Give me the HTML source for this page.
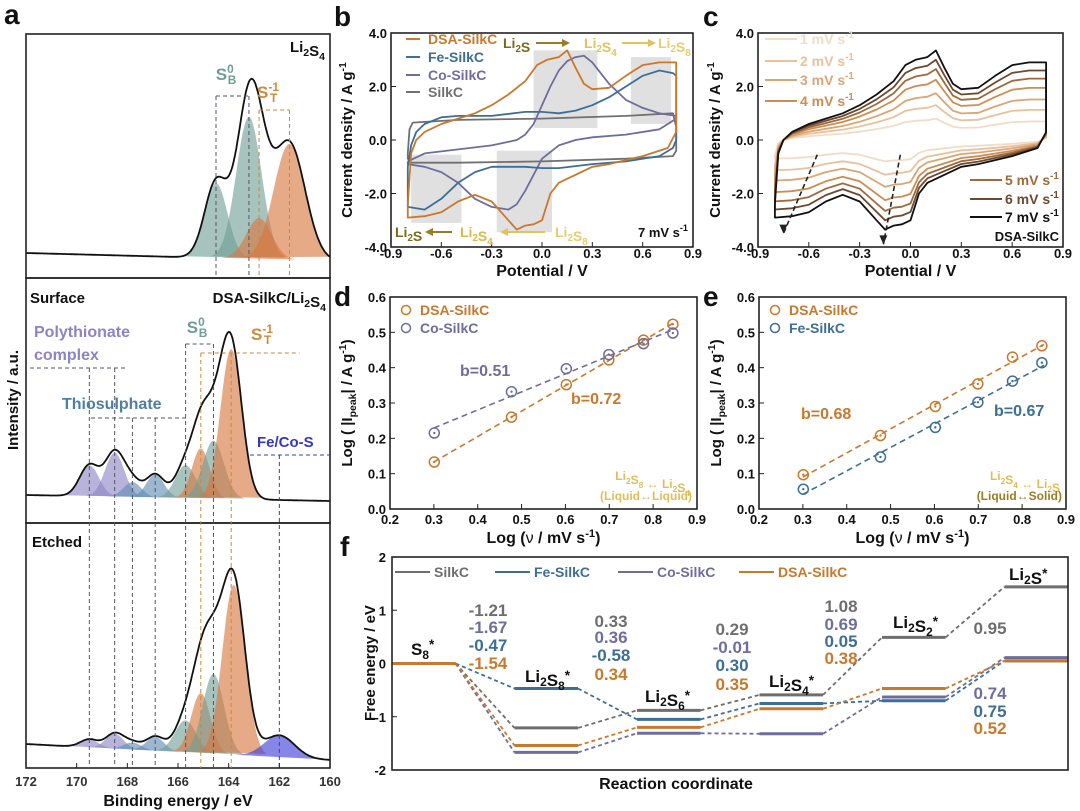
<!DOCTYPE html>
<html><head><meta charset="utf-8"><style>
html,body{margin:0;padding:0;background:#fff}
svg{display:block;font-family:"Liberation Sans",Arial,sans-serif;font-weight:bold}
</style></head><body>
<svg id="fig" width="1080" height="811" viewBox="0 0 1080 811" xmlns="http://www.w3.org/2000/svg">
<g id="layer"></g>
</svg>
<script>
// ---------- Panel a data (XPS) ----------
const aTopPeaksE = [164.5, 163.2, 162.8, 161.6];
const aTopPeaksH = [75, 142, 41, 116];
const aTopPeaksS = [0.45, 0.5, 0.5, 0.62];
const aTopPeaksC = ['teal','teal','orange','orange'];
const aSurfPeaksE = [169.5, 168.5, 167.8, 166.9, 165.7, 165.1, 164.6, 163.9];
const aSurfPeaksH = [31, 44, 15, 23, 33, 50, 58, 150];
const aSurfPeaksS = [0.38, 0.38, 0.35, 0.35, 0.4, 0.35, 0.42, 0.42];
const aSurfPeaksC = ['purple','purple','blue','blue','teal','orange','teal','orange'];
const aEtchPeaksE = [169.5, 168.5, 167.8, 166.9, 165.7, 165.1, 164.6, 163.8, 162.0];
const aEtchPeaksH = [8, 15, 7, 14, 32, 60, 80, 170, 22];
const aEtchPeaksS = [0.35, 0.35, 0.35, 0.35, 0.42, 0.38, 0.42, 0.45, 0.6];
const aEtchPeaksC = ['purple','purple','blue','blue','teal','orange','teal','orange','deep'];
const aXTicks = [172, 170, 168, 166, 164, 162, 160];

// ---------- Panel b data (CV, V / A g-1) ----------
const bDSA = [[-0.8,-2.4],[-0.78,-0.5],[-0.75,0.0],[-0.7,0.3],[-0.6,0.6],[-0.5,0.8],[-0.4,1.0],[-0.3,1.3],[-0.2,1.7],[-0.1,2.2],[-0.03,2.8],[0.03,3.0],[0.1,3.1],[0.15,3.35],[0.2,2.7],[0.25,2.1],[0.3,1.9],[0.4,1.95],[0.5,2.4],[0.6,2.8],[0.7,2.9],[0.8,2.9],[0.8,0.3],[0.75,-0.3],[0.6,-0.6],[0.5,-0.75],[0.4,-0.9],[0.3,-1.0],[0.2,-1.3],[0.1,-1.6],[0.05,-2.0],[0.0,-3.0],[-0.05,-3.15],[-0.1,-3.2],[-0.15,-3.35],[-0.2,-3.0],[-0.3,-2.3],[-0.4,-2.05],[-0.5,-2.3],[-0.6,-2.7],[-0.7,-2.85],[-0.8,-2.9],[-0.8,-2.4]];
const bFe = [[-0.8,-1.0],[-0.78,-0.2],[-0.75,0.3],[-0.7,0.6],[-0.6,0.85],[-0.5,0.9],[-0.3,0.9],[-0.1,1.05],[0.0,1.05],[0.1,1.0],[0.2,1.1],[0.3,1.3],[0.4,1.6],[0.5,2.0],[0.6,2.4],[0.7,2.6],[0.78,2.5],[0.8,2.4],[0.8,0.0],[0.78,-0.3],[0.7,-0.6],[0.5,-0.8],[0.3,-0.9],[0.1,-1.05],[0.0,-1.05],[-0.1,-1.0],[-0.3,-1.0],[-0.4,-1.2],[-0.5,-1.6],[-0.6,-2.2],[-0.7,-2.6],[-0.8,-2.5],[-0.8,-1.0]];
const bCo = [[-0.8,-0.8],[-0.7,-0.5],[-0.5,-0.35],[-0.3,-0.2],[-0.15,0.0],[-0.1,0.2],[-0.05,0.6],[0.0,1.3],[0.05,2.0],[0.1,2.6],[0.15,2.95],[0.2,3.1],[0.25,3.15],[0.3,2.9],[0.4,2.1],[0.5,1.5],[0.6,1.2],[0.7,1.0],[0.8,0.9],[0.8,0.8],[0.7,0.4],[0.5,0.2],[0.3,0.1],[0.2,0.0],[0.1,-0.2],[0.0,-0.7],[-0.05,-1.3],[-0.1,-1.9],[-0.15,-2.4],[-0.2,-2.6],[-0.3,-2.5],[-0.4,-2.2],[-0.5,-1.6],[-0.6,-1.2],[-0.7,-1.0],[-0.8,-0.9],[-0.8,-0.8]];
const bSilk = [[-0.8,-0.5],[-0.79,0.4],[-0.77,0.65],[-0.5,0.75],[0.0,0.8],[0.5,0.9],[0.78,1.0],[0.8,0.5],[0.8,-0.4],[0.78,-0.6],[0.5,-0.7],[0.0,-0.8],[-0.5,-0.85],[-0.78,-0.85],[-0.8,-0.7],[-0.8,-0.5]];
const bBoxes = [[-0.05,0.33,0.45,3.35],[0.53,0.77,0.6,3.1],[-0.78,-0.48,-3.1,-0.55],[-0.27,0.06,-3.45,-0.4]];
const cvXTicks = [-0.9,-0.6,-0.3,0.0,0.3,0.6,0.9];
const cvYTicks = [-4.0,-2.0,0.0,2.0,4.0];

// ---------- Panel c data ----------
const cRates = [1,2,3,4,5,6,7];
const cPeakCurrent = [0.8,1.3,1.75,2.25,2.65,3.0,3.35];

// ---------- Panel d/e data ----------
const logV = [0.301,0.477,0.602,0.699,0.778,0.845];
const dDSA = [0.133,0.26,0.352,0.422,0.478,0.523];
const dCo = [0.215,0.332,0.397,0.437,0.468,0.498];
const eDSA = [0.097,0.208,0.29,0.354,0.43,0.462];
const eFe = [0.056,0.147,0.231,0.302,0.362,0.414];
const deXTicks = [0.2,0.3,0.4,0.5,0.6,0.7,0.8,0.9];
const deYTicks = [0.0,0.1,0.2,0.3,0.4,0.5,0.6];

// ---------- Panel f data ----------
const fSpecies = ['S8*','Li2S8*','Li2S6*','Li2S4*','Li2S2*','Li2S*'];
const fStepSilk = [-1.21,0.33,0.29,1.08,0.95];
const fStepFe = [-0.47,-0.58,0.30,0.05,0.75];
const fStepCo = [-1.67,0.36,-0.01,0.69,0.74];
const fStepDSA = [-1.54,0.34,0.35,0.38,0.52];
const fYTicks = [-2,-1,0,1,2];

const NS='http://www.w3.org/2000/svg';
const root=document.getElementById('layer');
function mk(tag,attrs,name,inter,parent){
  const el=document.createElementNS(NS,tag);
  for(const k in attrs) el.setAttribute(k,attrs[k]);
  
  
  (parent||root).appendChild(el);return el;
}
function txt(x,y,s,name,o){o=o||{};
  const el=mk('text',{x:x,y:y,'font-size':o.fs||14,fill:o.fill||'#111','text-anchor':o.anchor||'start','font-weight':'bold'},name,false,o.parent);
  if(o.rot) el.setAttribute('transform','rotate('+o.rot+' '+x+' '+y+')');
  el.innerHTML=s;return el;}
function lin(d0,d1,r0,r1){return v=>r0+(v-d0)/(d1-d0)*(r1-r0);}
function frame(x0,y0,x1,y1,name){mk('rect',{x:x0,y:y0,width:x1-x0,height:y1-y0,fill:'none',stroke:'#222','stroke-width':1.6},name,false);}
const sub=(a,b)=>a+'<tspan font-size="0.7em" dy="4">'+b+'</tspan><tspan dy="-4"></tspan>';
function arrow(x1,y,x2,col,name){
  mk('line',{x1:x1,y1:y,x2:x2-(x2>x1?6:-6),y2:y,stroke:col,'stroke-width':2},name,false);
  const d=x2>x1?-8:8;
  mk('path',{d:'M'+x2+' '+y+' l'+d+' -4 l0 8 z',fill:col},name+'-head',false);}

// panel letters
[['a',4,24],['b',334,26],['c',703,26],['d',334,306],['e',703,306],['f',340,556]].forEach(l=>txt(l[1],l[2],l[0],'panel-label-'+l[0],{fs:28}));

// ================= Panel a =================
const xa=lin(172,160,26,330);
const colA={teal:'#6f9e96',orange:'#d9763e',purple:'#8c84c4',blue:'#5f8db5',deep:'#3b3bd6'};
const aPanels=[
 {E:aTopPeaksE,H:aTopPeaksH,S:aTopPeaksS,C:aTopPeaksC,top:34,bot:278,bgL:253,bgR:261,name:'li2s4'},
 {E:aSurfPeaksE,H:aSurfPeaksH,S:aSurfPeaksS,C:aSurfPeaksC,top:278,bot:523,bgL:495,bgR:501,name:'surface'},
 {E:aEtchPeaksE,H:aEtchPeaksH,S:aEtchPeaksS,C:aEtchPeaksC,top:523,bot:768,bgL:744,bgR:760,name:'etched'}];
aPanels.forEach(p=>{
  const bg=e=>p.bgL+(172-e)/12*(p.bgR-p.bgL);
  const g=mk('g',{},'xps-'+p.name+'-panel',false);
  p.E.forEach((c,i)=>{
    let d='';
    for(let e=Math.min(172,c+3*p.S[i]);e>=Math.max(160,c-3*p.S[i]);e-=0.05){
      const y=bg(e)-p.H[i]*Math.exp(-0.5*Math.pow((e-c)/p.S[i],2));
      d+=(d?'L':'M')+xa(e).toFixed(1)+' '+y.toFixed(1);}
    d+='Z';
    mk('path',{d:d,fill:colA[p.C[i]],'fill-opacity':0.62,stroke:'none'},'xps-peak-'+p.name+'-'+c,false,g);
  });
  let d='';
  for(let e=172;e>=159.99;e-=0.05){
    let y=bg(e);p.E.forEach((c,i)=>{y-=p.H[i]*Math.exp(-0.5*Math.pow((e-c)/p.S[i],2));});
    d+=(d?'L':'M')+xa(e).toFixed(1)+' '+y.toFixed(1);}
  mk('path',{d:d,fill:'none',stroke:'#111','stroke-width':1.8},'xps-envelope-'+p.name,false,g);
  frame(26,p.top,330,p.bot,'xps-frame-'+p.name);
});
function vdash(e,y0,y1,col,name){mk('line',{x1:xa(e),y1:y0,x2:xa(e),y2:y1,stroke:col,'stroke-width':1,'stroke-dasharray':'4 3'},name,false);}
function hdash(e0,e1,y,col,name){mk('line',{x1:xa(e0),y1:y,x2:xa(e1),y2:y,stroke:col,'stroke-width':1,'stroke-dasharray':'4 3'},name,false);}
function hpx(x0,x1,y,col,name){mk('line',{x1:x0,y1:y,x2:x1,y2:y,stroke:col,'stroke-width':1,'stroke-dasharray':'4 3'},name,false);}
vdash(164.5,96,278,'#556','guide-sb-1');vdash(163.2,96,278,'#556','guide-sb-2');hdash(164.5,163.2,96,'#556','bracket-sb-top');
vdash(162.8,110,278,'#c8893a','guide-st-1');vdash(161.6,110,278,'#c8893a','guide-st-2');hdash(162.8,161.6,110,'#c8893a','bracket-st-top');
vdash(169.5,368,768,'#556','guide-poly-1');vdash(168.5,368,768,'#556','guide-poly-2');hpx(30,125,368,'#556','bracket-poly');
vdash(167.8,418,768,'#556','guide-thio-1');vdash(166.9,418,768,'#556','guide-thio-2');hpx(91,186,418,'#556','bracket-thio');
vdash(165.7,344,768,'#556','guide-sb-3');vdash(164.6,344,768,'#556','guide-sb-4');hdash(165.7,164.6,344,'#556','bracket-sb-surf');
vdash(165.1,353,768,'#c8893a','guide-st-3');vdash(163.9,353,768,'#c8893a','guide-st-4');hdash(165.1,161.2,353,'#c8893a','bracket-st-surf');
vdash(162.0,455,768,'#3b3bb0','guide-feco');hpx(250,330,455,'#3b3bb0','bracket-feco');
txt(325,52,sub('Li','2')+sub('S','4'),'label-li2s4',{fs:15,anchor:'end'});
txt(226,80,'S<tspan font-size="0.7em" dy="-7">0</tspan><tspan font-size="0.7em" dx="-6" dy="11">B</tspan>','label-sb0-top',{fs:17,fill:'#6f9e96',anchor:'middle'});
txt(268,98,'S<tspan font-size="0.7em" dy="-7">-1</tspan><tspan font-size="0.7em" dx="-9" dy="11">T</tspan>','label-st-top',{fs:17,fill:'#d08a3c',anchor:'middle'});
txt(30,303,'Surface','label-surface',{fs:15});
txt(326,303,'DSA-SilkC/'+sub('Li','2')+sub('S','4'),'label-dsa-li2s4',{fs:15,anchor:'end'});
txt(34,337,'Polythionate','label-polythionate',{fs:16,fill:'#8c84c4'});
txt(34,360,'complex','label-complex',{fs:16,fill:'#8c84c4'});
txt(62,409,'Thiosulphate','label-thiosulphate',{fs:16,fill:'#4f7fa5'});
txt(257,447,'Fe/Co-S','label-feco-s',{fs:15,fill:'#3535c8'});
txt(197,333,'S<tspan font-size="0.7em" dy="-7">0</tspan><tspan font-size="0.7em" dx="-6" dy="11">B</tspan>','label-sb0-surf',{fs:17,fill:'#6f9e96',anchor:'middle'});
txt(262,340,'S<tspan font-size="0.7em" dy="-7">-1</tspan><tspan font-size="0.7em" dx="-9" dy="11">T</tspan>','label-st-surf',{fs:17,fill:'#d08a3c',anchor:'middle'});
txt(32,547,'Etched','label-etched',{fs:15});
aXTicks.forEach(t=>{txt(xa(t),786,t,'xps-xtick-'+t,{fs:13,anchor:'middle',fill:'#333'});
  mk('line',{x1:xa(t),y1:768,x2:xa(t),y2:763,stroke:'#222'},'xps-tickmark-'+t,false);});
txt(178,806,'Binding energy / eV','xps-x-title',{fs:16,anchor:'middle'});
txt(18,400,'Intensity / a.u.','xps-y-title',{fs:15,anchor:'middle',rot:-90});

// ================= Panel b & c CV =================
function cvAxes(x0,x1,name,titleX){
  const xs=lin(-0.9,0.9,x0,x1), ys=lin(-4,4,247,33);
  cvXTicks.forEach(t=>{txt(xs(t),258,t.toFixed(1),name+'-xtick-'+t,{fs:13,anchor:'middle'});
    mk('line',{x1:xs(t),y1:247,x2:xs(t),y2:242,stroke:'#222'},name+'-xtickmark',false);});
  cvYTicks.forEach(t=>{txt(x0-4,ys(t)+5,t.toFixed(1),name+'-ytick-'+t,{fs:13,anchor:'end'});
    mk('line',{x1:x0,y1:ys(t),x2:x0+5,y2:ys(t),stroke:'#222'},name+'-ytickmark',false);});
  txt((x0+x1)/2,276,'Potential / V','potential-title-'+name,{fs:16,anchor:'middle'});
  txt(titleX,140,'Current density / A g<tspan font-size="0.7em" dy="-6">-1</tspan>','current-title-'+name,{fs:15,anchor:'middle',rot:-90});
  return [xs,ys];
}
function pathOf(pts,xs,ys,scale){return pts.map((p,i)=>(i?'L':'M')+xs(p[0]).toFixed(1)+' '+ys(p[1]*(scale||1)).toFixed(1)).join('');}
let [xb,yb]=cvAxes(391,693,'b',352);
bBoxes.forEach((b,i)=>mk('rect',{x:xb(b[0]),y:yb(b[3]),width:xb(b[1])-xb(b[0]),height:yb(b[2])-yb(b[3]),fill:'#d8d8d8','fill-opacity':0.8},'highlight-box-'+i,false));
[[bSilk,'#707070','silkc'],[bCo,'#6e6e9e','co-silkc'],[bFe,'#3d6f96','fe-silkc'],[bDSA,'#c9782c','dsa-silkc']].forEach(s=>
  mk('path',{d:pathOf(s[0],xb,yb),fill:'none',stroke:s[1],'stroke-width':1.8,'stroke-linejoin':'round'},'cv-curve-'+s[2],false));
frame(391,33,693,247,'cv-b-frame');
[['DSA-SilkC','#c9782c',44],['Fe-SilkC','#3d6f96',62],['Co-SilkC','#6e6e9e',80],['SilkC','#707070',97]].forEach((l,i)=>{
  mk('line',{x1:406,y1:l[2]-5,x2:420,y2:l[2]-5,stroke:l[1],'stroke-width':2},'legend-line-b-'+i,false);
  txt(428,l[2],l[0],'legend-label-b-'+i,{fs:14,fill:l[1]});});
txt(503,48,sub('Li','2')+'S','arrow-li2s-b',{fs:14,fill:'#7a6a1c'});
arrow(536,43,570,'#9a7d22','arrow-1');
txt(584,48,sub('Li','2')+sub('S','4'),'arrow-li2s4-b',{fs:14,fill:'#e3c25a'});
arrow(622,43,656,'#e3c25a','arrow-2');
txt(658,48,sub('Li','2')+sub('S','8'),'arrow-li2s8-b',{fs:14,fill:'#e8cc70'});
txt(395,237,sub('Li','2')+'S','arrow-li2s-b2',{fs:14,fill:'#7a6a1c'});
arrow(452,232,425,'#9a7d22','arrow-3');
txt(460,237,sub('Li','2')+sub('S','4'),'arrow-li2s4-b2',{fs:14,fill:'#d9b84a'});
arrow(545,232,500,'#e3c25a','arrow-4');
txt(555,237,sub('Li','2')+sub('S','8'),'arrow-li2s8-b2',{fs:14,fill:'#e8cc70'});
txt(688,237,'7 mV s<tspan font-size="0.7em" dy="-6">-1</tspan>','scan-rate-b',{fs:13,anchor:'end'});

let [xc,yc]=cvAxes(758,1063,'c',720);
const cCols=['#f2dcc6','#e9c19a','#dca574','#cd8c52','#9e6a3d','#6c4a2e','#111111'];
cRates.forEach((r,i)=>mk('path',{d:pathOf(bDSA,xc,yc,cPeakCurrent[i]/cPeakCurrent[6]),fill:'none',stroke:cCols[i],'stroke-width':1.8,'stroke-linejoin':'round'},'cv-curve-'+r+'mv',false));
frame(758,33,1063,247,'cv-c-frame');
[[-0.55,-0.55,-0.75,-3.5],[-0.06,-0.55,-0.16,-3.9]].forEach((a,i)=>{
  mk('line',{x1:xc(a[0]),y1:yc(a[1]),x2:xc(a[2]),y2:yc(a[3]),stroke:'#222','stroke-width':1.6,'stroke-dasharray':'5 3'},'trend-arrow-'+i,false);
  mk('path',{d:'M'+xc(a[2])+' '+yc(a[3])+' l-4 -9 l8 0 z',fill:'#222'},'trend-arrowhead-'+i,false);});
[[44,0],[66,1],[85,2],[106,3]].forEach(l=>{
  mk('line',{x1:765,y1:l[0]-5,x2:797,y2:l[0]-5,stroke:cCols[l[1]],'stroke-width':2},'legend-line-c-'+cRates[l[1]],false);
  txt(800,l[0],cRates[l[1]]+' mV s<tspan font-size="0.7em" dy="-6">-1</tspan>','legend-label-c-'+cRates[l[1]],{fs:14,fill:cCols[l[1]]});});
[[185,4],[204,5],[222,6]].forEach(l=>{
  mk('line',{x1:970,y1:l[0]-5,x2:1002,y2:l[0]-5,stroke:cCols[l[1]],'stroke-width':2},'legend-line-c-'+cRates[l[1]],false);
  txt(1005,l[0],cRates[l[1]]+' mV s<tspan font-size="0.7em" dy="-6">-1</tspan>','legend-label-c-'+cRates[l[1]],{fs:14,fill:cCols[l[1]]});});
txt(1059,241,'DSA-SilkC','label-dsa-c',{fs:13,anchor:'end'});

// ================= Panel d & e =================
function fit(x,y){const n=x.length,mx=x.reduce((a,b)=>a+b)/n,my=y.reduce((a,b)=>a+b)/n;
  let sxy=0,sxx=0;x.forEach((v,i)=>{sxy+=(v-mx)*(y[i]-my);sxx+=(v-mx)*(v-mx);});const k=sxy/sxx;return [k,my-k*mx];}
function bPanel(x0,x1,sets,name){
  const xs=lin(0.2,0.9,x0,x1), ys=lin(0,0.6,509,297);
  deXTicks.forEach(t=>{txt(xs(t),524,t.toFixed(1),name+'-xtick-'+t,{fs:13,anchor:'middle'});
    mk('line',{x1:xs(t),y1:509,x2:xs(t),y2:504,stroke:'#222'},name+'-xtickmark',false);});
  deYTicks.forEach(t=>{txt(x0-4,ys(t)+5,t.toFixed(1),name+'-ytick-'+t,{fs:13,anchor:'end'});
    mk('line',{x1:x0,y1:ys(t),x2:x0+5,y2:ys(t),stroke:'#222'},name+'-ytickmark',false);});
  sets.forEach(s=>{const [k,b]=fit(logV,s.y);
    mk('line',{x1:xs(0.3),y1:ys(k*0.3+b),x2:xs(0.85),y2:ys(k*0.85+b),stroke:s.c,'stroke-width':1.6,'stroke-dasharray':'6 4'},'fit-line-'+name+'-'+s.n,false);
    logV.forEach((v,i)=>{mk('circle',{cx:xs(v),cy:ys(s.y[i]),r:5,fill:'none',stroke:s.c,'stroke-width':1.5},'point-'+name+'-'+s.n,false);
      mk('circle',{cx:xs(v),cy:ys(s.y[i]),r:1.2,fill:s.c},'point-dot-'+name,false);});});
  frame(x0,297,x1,509,'frame-'+name);
  txt((x0+x1)/2,543,'Log (<tspan font-weight="normal">ν</tspan> / mV s<tspan font-size="0.7em" dy="-6">-1</tspan><tspan dy="6">)</tspan>','x-title-'+name,{fs:16,anchor:'middle'});
  txt(x0-38,403,'Log ( |I<tspan font-size="0.7em" dy="4">peak</tspan><tspan dy="-4">| / A g</tspan><tspan font-size="0.7em" dy="-6">-1</tspan><tspan dy="6">)</tspan>','y-title-'+name,{fs:15,anchor:'middle',rot:-90});
  sets.forEach((s,i)=>{const y=315+i*18;
    mk('circle',{cx:x0+16,cy:y-5,r:4.5,fill:'none',stroke:s.c,'stroke-width':1.5},'legend-marker-'+name+'-'+s.n,false);
    txt(x0+30,y,s.label,'legend-label-'+name+'-'+s.n,{fs:14,fill:s.c});});
  return xs;
}
bPanel(390,697,[{y:dDSA,c:'#c9782c',n:'dsa',label:'DSA-SilkC'},{y:dCo,c:'#6e6e9e',n:'co',label:'Co-SilkC'}],'d');
txt(460,376,'b=0.51','b-value-co',{fs:16,fill:'#6e6e9e'});
txt(571,404,'b=0.72','b-value-dsa-d',{fs:16,fill:'#c9782c'});
txt(690,480,sub('Li','2')+sub('S','8')+' ↔ '+sub('Li','2')+sub('S','4'),'reaction-d-1',{fs:12,fill:'#e0bd55',anchor:'end'});
txt(692,500,'(Liquid↔Liquid)','reaction-d-2',{fs:12,fill:'#e0bd55',anchor:'end'});
bPanel(759,1066,[{y:eDSA,c:'#c9782c',n:'dsa',label:'DSA-SilkC'},{y:eFe,c:'#3d6f96',n:'fe',label:'Fe-SilkC'}],'e');
txt(801,419,'b=0.68','b-value-dsa-e',{fs:16,fill:'#c9782c'});
txt(994,416,'b=0.67','b-value-fe',{fs:16,fill:'#3d6f96'});
txt(1060,480,sub('Li','2')+sub('S','4')+' ↔ '+sub('Li','2')+'S','reaction-e-1',{fs:12,fill:'#e0bd55',anchor:'end'});
txt(1062,500,'(Liquid↔Solid)','reaction-e-2',{fs:12,fill:'#9a7d22',anchor:'end'});

// ================= Panel f =================
const xf0=392,xf1=1068,yf=lin(-2,2,770,557);
fYTicks.forEach(t=>{txt(xf0-6,yf(t)+5,t,'f-ytick-'+t,{fs:13,anchor:'end'});
  mk('line',{x1:xf0,y1:yf(t),x2:xf0+5,y2:yf(t),stroke:'#222'},'f-ytickmark',false);});
const lvlX=i=>xf0+(xf1-xf0)*i*0.1812, lvlW=(xf1-xf0)*0.094;
function cum(st){const r=[0];st.forEach(s=>r.push(r[r.length-1]+s));return r;}
[[fStepSilk,'#6e6e6e','silkc'],[fStepCo,'#6e6e9e','co-silkc'],[fStepFe,'#3d6f96','fe-silkc'],[fStepDSA,'#c9782c','dsa-silkc']].forEach(s=>{
  const e=cum(s[0]);
  e.forEach((v,i)=>{mk('line',{x1:lvlX(i),y1:yf(v),x2:lvlX(i)+lvlW,y2:yf(v),stroke:s[1],'stroke-width':3},'level-'+s[2]+'-'+i,false);
    if(i<e.length-1) mk('line',{x1:lvlX(i)+lvlW,y1:yf(v),x2:lvlX(i+1),y2:yf(e[i+1]),stroke:s[1],'stroke-width':1.8,'stroke-dasharray':'4 3'},'connector-'+s[2]+'-'+i,false);});
});
frame(xf0,557,xf1,770,'frame-f');
[['SilkC','#6e6e6e',395],['Fe-SilkC','#3d6f96',495],['Co-SilkC','#6e6e9e',618],['DSA-SilkC','#c9782c',739]].forEach((l,i)=>{
  mk('line',{x1:l[2],y1:572,x2:l[2]+35,y2:572,stroke:l[1],'stroke-width':2},'legend-line-f-'+i,false);
  txt(l[2]+39,577,l[0],'legend-label-f-'+i,{fs:14,fill:l[1]});});
const spTxt=['S<tspan font-size="0.7em" dy="4">8</tspan><tspan dy="-10" font-size="0.8em">*</tspan>',
 sub('Li','2')+'S<tspan font-size="0.7em" dy="4">8</tspan><tspan dy="-10" font-size="0.8em">*</tspan>',
 sub('Li','2')+'S<tspan font-size="0.7em" dy="4">6</tspan><tspan dy="-10" font-size="0.8em">*</tspan>',
 sub('Li','2')+'S<tspan font-size="0.7em" dy="4">4</tspan><tspan dy="-10" font-size="0.8em">*</tspan>',
 sub('Li','2')+'S<tspan font-size="0.7em" dy="4">2</tspan><tspan dy="-10" font-size="0.8em">*</tspan>',
 sub('Li','2')+'S<tspan dy="-6" font-size="0.8em">*</tspan>'];
[[411,655],[525,682],[645,702],[769,687],[893,628],[1009,580]].forEach((p,i)=>txt(p[0],p[1],spTxt[i],'species-'+fSpecies[i],{fs:17}));
const fCols=['#6e6e6e','#6e6e9e','#3d6f96','#c9782c'];
const gx=[488,611,732,841];
const gy=[[616,633,651,669],[627,643,661,680],[635,653,671,690],[612,630,647,664]];
gx.forEach((x,i)=>{[fStepSilk,fStepCo,fStepFe,fStepDSA].forEach((s,j)=>txt(x,gy[i][j],s[i].toFixed(2),'step-energy-'+i+'-'+j,{fs:17,fill:fCols[j],anchor:'middle'}));});
[[fStepSilk,634],[fStepCo,699],[fStepFe,717],[fStepDSA,734]].forEach((s,j)=>txt(990,s[1],s[0][4].toFixed(2),'step-energy-4-'+j,{fs:17,fill:fCols[j],anchor:'middle'}));
txt(676,789,'Reaction coordinate','f-x-title',{fs:16,anchor:'middle'});
txt(375,663,'Free energy / eV','f-y-title',{fs:15,anchor:'middle',rot:-90});
</script>
</body></html>
